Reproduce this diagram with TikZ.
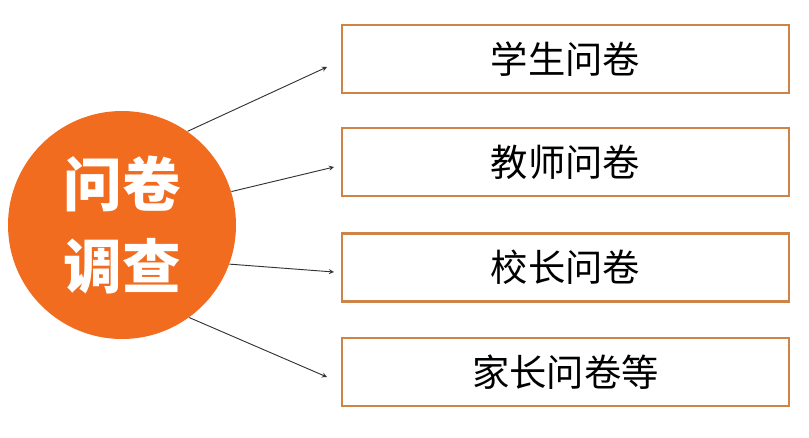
\documentclass[tikz,border=0pt]{standalone}
\usepackage{fontspec}
\newfontfamily\cjk{Noto Sans CJK SC}
\definecolor{qorange}{RGB}{241,108,30}
\definecolor{qframe}{RGB}{206,132,70}
\tikzstyle{hub}=[shape=circle,
                fill=qorange,
                text=white,
                minimum size=171pt,
                inner sep=0pt,
                align=center,
                font=\cjk\bfseries\fontsize{44}{61}\selectfont]
\tikzstyle{qbox}=[shape=rectangle,
                draw=qframe,
                line width=1.6pt,
                minimum height=51pt,
                minimum width=335pt,
                font=\cjk\fontsize{28}{32}\selectfont]

\begin{document}
\begin{tikzpicture}[x=0.75pt,y=-0.75pt,>=stealth,semithick]
\useasboundingbox (0,0) rectangle (809,437);

% survey hub
\node[hub] (q) at (122,225) {问卷\\调查};

% questionnaire boxes
\node[qbox] (b1) at (565.5,59)  {学生问卷};
\node[qbox] (b2) at (565.5,162) {教师问卷};
\node[qbox] (b3) at (565.5,267.5) {校长问卷};
\node[qbox] (b4) at (565.5,372) {家长问卷等};

% arrow ends
\coordinate (t1) at (327,67);
\coordinate (t2) at (334,167);
\coordinate (t3) at (334,272);
\coordinate (t4) at (327,377);

% paths (arrows) from hub
\path[->,black!80,line width=0.7pt] (q.55)  edge (t1)
          (q.17)  edge (t2)
          (q.-20) edge (t3)
          (q.-54) edge (t4);
\end{tikzpicture}
\end{document}
